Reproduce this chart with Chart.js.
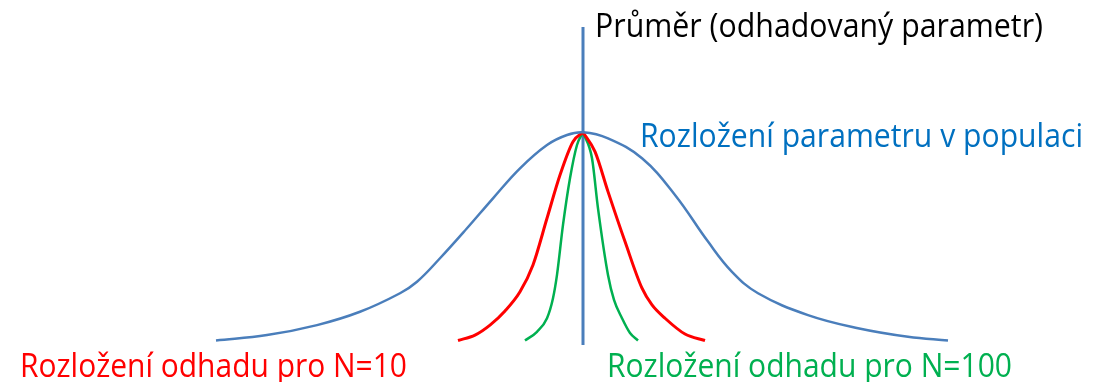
<!DOCTYPE html>
<html lang="cs">
<head>
<meta charset="UTF-8">
<title>Rozložení odhadu</title>
<script src="https://cdn.jsdelivr.net/npm/chart.js"></script>
<style>
    body { margin: 0; background: #ffffff; }
    #wrap { width: 1104px; height: 382px; position: relative; }
</style>
</head>
<body>
<div id="wrap"><canvas id="graf"></canvas></div>
<script>
    // rozložení parametru v populaci (modrá)
    const popX = [-3.67, -3.16, -2.66, -2.23, -1.83, -1.66, -1.43, -1.16, -0.90, -0.63, -0.36, -0.16, 0,
                  0.25, 0.59, 0.92, 1.25, 1.49, 1.75, 2.25, 2.75, 3.25, 3.65];
    const popY = [0, 0.026, 0.074, 0.138, 0.227, 0.282, 0.395, 0.539, 0.683, 0.827, 0.939, 0.987, 1,
                  0.971, 0.875, 0.699, 0.475, 0.330, 0.227, 0.122, 0.059, 0.018, 0];

    // rozložení odhadu pro N=10 (červená)
    const n10X = [-1.25, -1.08, -0.93, -0.78, -0.63, -0.50, -0.36, -0.23, -0.10, 0,
                  0.12, 0.25, 0.42, 0.59, 0.69, 0.82, 1.02, 1.22];
    const n10Y = [0, 0.026, 0.074, 0.142, 0.234, 0.363, 0.587, 0.795, 0.955, 1,
                  0.907, 0.715, 0.475, 0.251, 0.171, 0.107, 0.031, 0];

    // rozložení odhadu pro N=100 (zelená)
    const n100X = [-0.58, -0.46, -0.36, -0.30, -0.26, -0.20, -0.13, -0.06, 0,
                   0.09, 0.15, 0.25, 0.31, 0.39, 0.47, 0.55];
    const n100Y = [0, 0.042, 0.107, 0.203, 0.315, 0.555, 0.779, 0.939, 1,
                   0.875, 0.635, 0.315, 0.195, 0.107, 0.036, 0];

    // svislá čára průměru
    const prumerX = [0, 0];
    const prumerY = [-0.022, 1.506];

    // popisky: text, začátek a konec v ose x, účaří v ose y
    const popisky = [
        { text: 'Průměr (odhadovaný parametr)', x0: 0.12, x1: 4.60, y: 1.458, barva: '#000000' },
        { text: 'Rozložení parametru v populaci', x0: 0.57, x1: 5.00, y: 0.929, barva: '#0070C0' },
        { text: 'Rozložení odhadu pro N=10', x0: -5.63, x1: -1.76, y: -0.175, barva: '#FF0000' },
        { text: 'Rozložení odhadu pro N=100', x0: 0.24, x1: 4.29, y: -0.175, barva: '#00B050' }
    ];

    const body = (xs, ys) => xs.map((x, i) => ({ x: x, y: ys[i] }));

    // vrchol je špičatý, proto levá a pravá půlka zvlášť
    function pulky(xs, ys) {
        const k = ys.indexOf(Math.max(...ys));
        return [body(xs.slice(0, k + 1), ys.slice(0, k + 1)), body(xs.slice(k), ys.slice(k))];
    }

    const cara = (data, barva, sirka, tvar) => Object.assign({
        data: data,
        showLine: true,
        borderColor: barva,
        borderWidth: sirka,
        pointRadius: 0,
        fill: false
    }, tvar);

    const hladka = { tension: 0.4 };
    const monot = { cubicInterpolationMode: 'monotone' };
    const rovna = { tension: 0 };

    const [n10L, n10P] = pulky(n10X, n10Y);
    const [n100L, n100P] = pulky(n100X, n100Y);

    const popiskyPlugin = {
        id: 'popisky',
        afterDraw(chart) {
            const ctx = chart.ctx;
            const sx = chart.scales.x, sy = chart.scales.y;
            ctx.save();
            ctx.font = '32px "Open Sans", sans-serif';
            ctx.textBaseline = 'alphabetic';
            popisky.forEach(p => {
                const a = sx.getPixelForValue(p.x0);
                const b = sx.getPixelForValue(p.x1);
                ctx.fillStyle = p.barva;
                ctx.fillText(p.text, a, sy.getPixelForValue(p.y), b - a);
            });
            ctx.restore();
        }
    };

    new Chart(document.getElementById('graf'), {
        type: 'scatter',
        data: {
            datasets: [
                cara(body(popX, popY), '#4A7EBB', 2.5, hladka),
                cara(n10L, '#FF0000', 3, monot),
                cara(n10P, '#FF0000', 3, monot),
                cara(n100L, '#00B050', 2.5, monot),
                cara(n100P, '#00B050', 2.5, monot),
                cara(body(prumerX, prumerY), '#4A7EBB', 3, rovna)
            ]
        },
        options: {
            responsive: true,
            maintainAspectRatio: false,
            animation: false,
            layout: { padding: 0 },
            plugins: { legend: { display: false }, tooltip: { enabled: false } },
            scales: {
                x: { type: 'linear', min: -5.83, max: 5.21, display: false },
                y: { type: 'linear', min: -0.1993, max: 1.6354, display: false }
            }
        },
        plugins: [popiskyPlugin]
    });
</script>
</body>
</html>
